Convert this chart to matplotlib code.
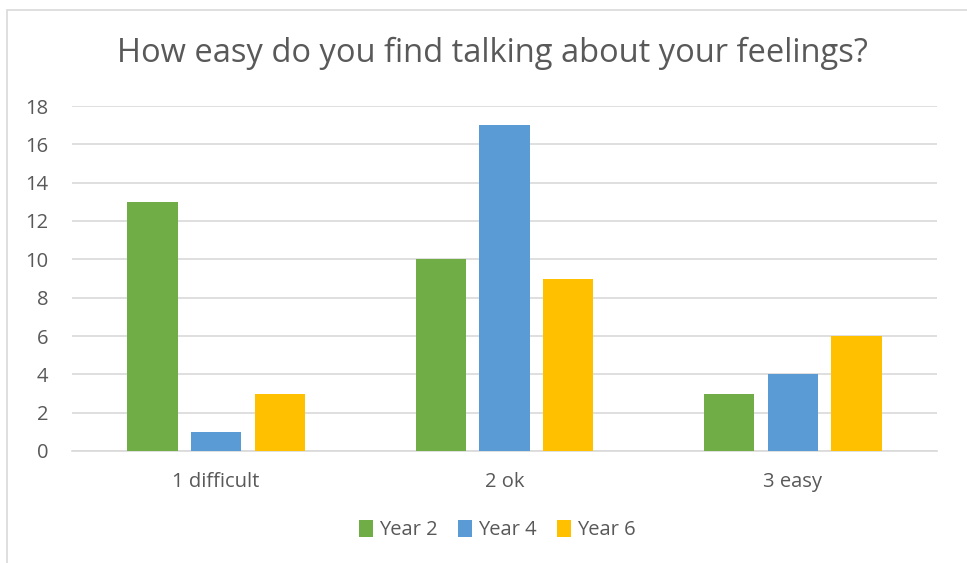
import numpy as np
import matplotlib.pyplot as plt
from matplotlib.patches import Rectangle

plt.rcParams['font.family'] = ['Open Sans', 'DejaVu Sans']

categories = ['1 difficult', '2 ok', '3 easy']
year2 = [13, 10, 3]
year4 = [1, 17, 4]
year6 = [3, 9, 6]
series_names = ['Year 2', 'Year 4', 'Year 6']
colors = ['#70ad47', '#5b9bd5', '#ffc000']
text_col = '#595959'

fig = plt.figure(figsize=(9.67, 5.63), dpi=100)
ax = fig.add_axes([72/967, 112/563, 865/967, 345/563])

# chart frame, open at right and bottom
fig.patches.append(Rectangle((7/967, -0.1), 1.2, 1 - 10/563 + 0.1,
                             transform=fig.transFigure, fill=False,
                             edgecolor='#d9d9d9', linewidth=1.2))

x = np.arange(len(categories))
width = 0.174
step = 0.221
for i, (vals, name, c) in enumerate(zip([year2, year4, year6], series_names, colors)):
    ax.bar(x + (i - 1) * step, vals, width, color=c, label=name, zorder=3)

ax.set_xlim(-0.5, 2.5)
ax.set_ylim(0, 18)
ax.set_yticks(range(0, 19, 2))
ax.set_xticks(x)
ax.set_xticklabels(categories)
ax.grid(axis='y', color='#d9d9d9', linewidth=1.2, zorder=0)
for s in ['top', 'right', 'left']:
    ax.spines[s].set_visible(False)
ax.spines['bottom'].set_color('#d9d9d9')
ax.spines['bottom'].set_linewidth(1.2)
ax.tick_params(axis='both', length=0, labelsize=14.5, labelcolor=text_col)
ax.tick_params(axis='y', pad=17)
ax.tick_params(axis='x', pad=15)

fig.text(0.509, 1 - 53/563, 'How easy do you find talking about your feelings?',
         ha='center', va='center', fontsize=23.5, color=text_col)

leg = fig.legend(loc='center', bbox_to_anchor=(497/967, 1 - 530/563), ncol=3,
                 frameon=False, fontsize=14.5, handlelength=0.7, handleheight=0.9,
                 handletextpad=0.3, columnspacing=1.0)
for t in leg.get_texts():
    t.set_color(text_col)

fig.savefig('out.png', dpi=100)
